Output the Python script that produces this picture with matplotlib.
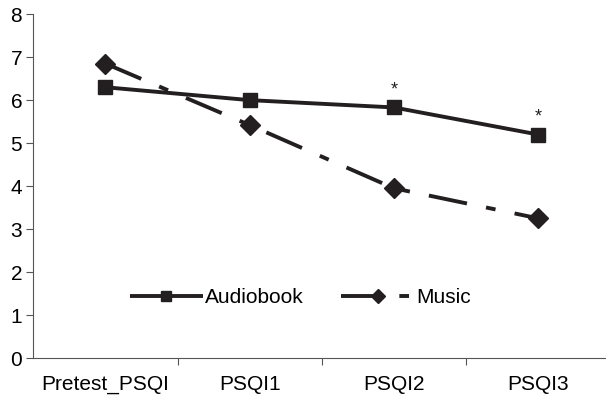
import matplotlib
matplotlib.use("Agg")
import matplotlib.pyplot as plt

# Données
categories = ['Pretest_PSQI', 'PSQI1', 'PSQI2', 'PSQI3']
audiobook = [6.3, 6.0, 5.83, 5.2]
music = [6.85, 5.42, 3.95, 3.25]
signif = [False, False, True, True]

plt.rcParams['font.family'] = ['Liberation Sans', 'DejaVu Sans']
couleur = '#231f20'

fig = plt.figure(figsize=(6.06, 4.05), dpi=100)
ax = fig.add_axes([0.055, 0.116, 0.952, 0.849])

x = [i + 0.5 for i in range(len(categories))]

ax.plot(x, audiobook, color=couleur, lw=2.8, marker='s', markersize=10,
        label='Audiobook', solid_capstyle='butt')
ax.plot(x, music, color=couleur, lw=2.8, marker='D', markersize=10,
        dashes=(10, 5, 2.5, 5), label='Music', dash_capstyle='butt')

# Astérisques de significativité
for xi, yi, s in zip(x, audiobook, signif):
    if s:
        ax.text(xi, yi + 0.22, '*', ha='center', va='bottom', fontsize=13, color=couleur)

ax.set_xlim(0, 4)
ax.set_ylim(0, 8)
ax.set_yticks(range(0, 9))
ax.set_xticks([1, 2, 3, 4])
ax.set_xticks(x, minor=True)
ax.set_xticklabels([])
ax.set_xticklabels(categories, minor=True)
ax.tick_params(axis='x', which='minor', length=0, labelsize=15, pad=12)
ax.tick_params(axis='x', which='major', length=5, direction='out', color='#555555')
ax.tick_params(axis='y', length=5, direction='out', labelsize=15, color='#555555', pad=3)

for s in ['top', 'right']:
    ax.spines[s].set_visible(False)
ax.spines['left'].set_color('#555555')
ax.spines['bottom'].set_color('#555555')

ax.legend(loc='center', bbox_to_anchor=(0.463, 0.175), ncol=2, frameon=False,
          fontsize=15, handlelength=3.5, handletextpad=0.1, columnspacing=1.8,
          markerscale=0.7)

fig.savefig('out.png', dpi=100)
